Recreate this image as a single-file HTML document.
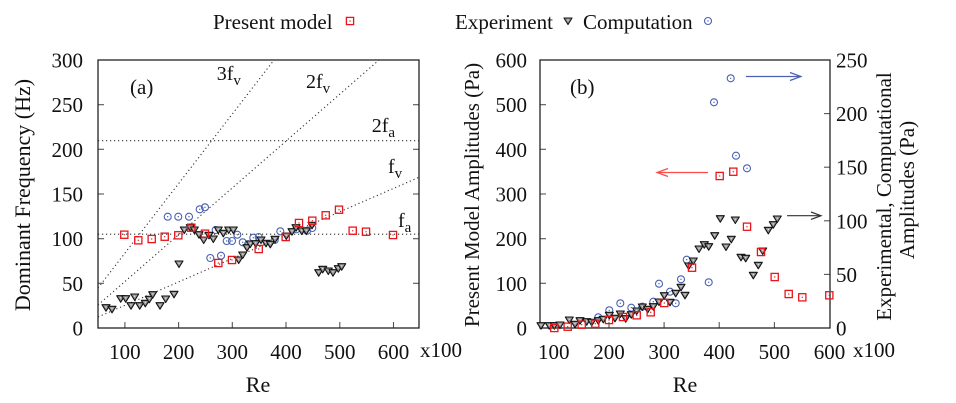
<!DOCTYPE html>
<html><head><meta charset="utf-8"><style>
html,body{margin:0;padding:0;background:#fff}
svg{display:block}
text{font-family:"Liberation Serif",serif;fill:#111}
</style></head><body>
<svg width="956" height="403" viewBox="0 0 956 403" xmlns="http://www.w3.org/2000/svg">
<defs>
<g id="sq"><rect x="-3.6" y="-3.6" width="7.2" height="7.2" fill="none" stroke="#e8161c" stroke-width="1.3"/><rect x="-0.6" y="-0.6" width="1.2" height="1.2" fill="#e8161c"/></g>
<g id="ci"><circle r="3.5" fill="none" stroke="#4a62b0" stroke-width="1.1"/><circle r="0.7" fill="#4a62b0"/></g>
<g id="tr"><polygon points="-4,-3 4,-3 0,3.5" fill="#9a9a9a" stroke="#111" stroke-width="1.1" stroke-linejoin="round"/><circle cx="0" cy="-0.8" r="0.6" fill="#eee"/></g>
<clipPath id="ca"><rect x="98" y="60" width="321" height="268"/></clipPath>
</defs>

<!-- Legend -->
<text x="213" y="29" font-size="21">Present model</text>
<use href="#sq" x="350" y="21"/>
<text x="455" y="29" font-size="21">Experiment</text>
<use href="#tr" x="568" y="21"/>
<text x="583" y="29" font-size="21">Computation</text>
<use href="#ci" x="708" y="21"/>

<!-- ============ LEFT PLOT ============ -->
<g clip-path="url(#ca)" stroke="#333" stroke-width="1.1" stroke-dasharray="1.2 2.8" fill="none">
<line x1="98" y1="234.2" x2="419" y2="234.2"/>
<line x1="98" y1="140.7" x2="419" y2="140.7"/>
<line x1="98" y1="317" x2="419" y2="177.3"/>
<line x1="98" y1="305" x2="379" y2="60"/>
<line x1="98" y1="288" x2="274" y2="60"/>
</g>
<g stroke="#555" stroke-width="1.1">
<line x1="98" y1="283.3" x2="104" y2="283.3"/><line x1="98" y1="238.7" x2="104" y2="238.7"/><line x1="98" y1="194" x2="104" y2="194"/><line x1="98" y1="149.3" x2="104" y2="149.3"/><line x1="98" y1="104.7" x2="104" y2="104.7"/>
<line x1="413" y1="283.3" x2="419" y2="283.3"/><line x1="413" y1="238.7" x2="419" y2="238.7"/><line x1="413" y1="194" x2="419" y2="194"/><line x1="413" y1="149.3" x2="419" y2="149.3"/><line x1="413" y1="104.7" x2="419" y2="104.7"/>
<line x1="124.9" y1="328" x2="124.9" y2="322"/><line x1="178.6" y1="328" x2="178.6" y2="322"/><line x1="232.3" y1="328" x2="232.3" y2="322"/><line x1="286" y1="328" x2="286" y2="322"/><line x1="339.8" y1="328" x2="339.8" y2="322"/><line x1="393.5" y1="328" x2="393.5" y2="322"/>
</g>
<rect x="98" y="60" width="321" height="268" fill="none" stroke="#222" stroke-width="1.3"/>

<g>
<use href="#ci" x="167.7" y="216.7"/><use href="#ci" x="178.3" y="216.7"/><use href="#ci" x="189" y="216.7"/><use href="#ci" x="199.7" y="209.3"/><use href="#ci" x="205" y="207.3"/><use href="#ci" x="210.3" y="258"/><use href="#ci" x="221" y="255.7"/><use href="#ci" x="215.7" y="230"/><use href="#ci" x="226.7" y="241"/><use href="#ci" x="232" y="241"/><use href="#ci" x="237.3" y="234.7"/><use href="#ci" x="242.7" y="242.3"/><use href="#ci" x="248" y="244.3"/><use href="#ci" x="253.3" y="237.7"/><use href="#ci" x="258.7" y="237"/><use href="#ci" x="274.7" y="240"/><use href="#ci" x="280.3" y="231.3"/><use href="#ci" x="296.3" y="229.3"/><use href="#ci" x="307" y="230.7"/><use href="#ci" x="312.3" y="228"/>
</g>
<g>
<use href="#tr" x="106" y="307.7"/><use href="#tr" x="112" y="309.3"/><use href="#tr" x="120.7" y="298.7"/><use href="#tr" x="125.7" y="298.7"/><use href="#tr" x="131" y="305.7"/><use href="#tr" x="134.7" y="297"/><use href="#tr" x="139.7" y="305.7"/><use href="#tr" x="145.3" y="303.3"/><use href="#tr" x="149.3" y="299.3"/><use href="#tr" x="152.7" y="294.7"/><use href="#tr" x="160" y="305.7"/><use href="#tr" x="165.7" y="299"/><use href="#tr" x="174" y="294.3"/><use href="#tr" x="179" y="264"/><use href="#tr" x="184.3" y="230"/><use href="#tr" x="190.3" y="227.7"/><use href="#tr" x="194.3" y="230"/><use href="#tr" x="199" y="234.7"/><use href="#tr" x="203.7" y="240"/><use href="#tr" x="209" y="235.3"/><use href="#tr" x="213.3" y="239"/><use href="#tr" x="218.3" y="230"/><use href="#tr" x="223.3" y="233.3"/><use href="#tr" x="228.7" y="230"/><use href="#tr" x="233.3" y="230"/><use href="#tr" x="238.7" y="260"/><use href="#tr" x="242.7" y="255"/><use href="#tr" x="247" y="247.7"/><use href="#tr" x="250.3" y="244"/><use href="#tr" x="255.7" y="243.7"/><use href="#tr" x="261" y="240"/><use href="#tr" x="266" y="243.3"/><use href="#tr" x="270.3" y="244.3"/><use href="#tr" x="275" y="239.3"/><use href="#tr" x="286.3" y="236"/><use href="#tr" x="292" y="231.7"/><use href="#tr" x="296" y="227.7"/><use href="#tr" x="301.7" y="231"/><use href="#tr" x="306.3" y="231"/><use href="#tr" x="312" y="225.3"/><use href="#tr" x="318.7" y="272.7"/><use href="#tr" x="322.7" y="269.3"/><use href="#tr" x="328.3" y="271"/><use href="#tr" x="333" y="272.7"/><use href="#tr" x="338.3" y="268.7"/><use href="#tr" x="341.7" y="266.7"/>
</g>
<g>
<use href="#sq" x="124.3" y="234.7"/><use href="#sq" x="138.3" y="240.3"/><use href="#sq" x="151.7" y="239"/><use href="#sq" x="164.7" y="236.7"/><use href="#sq" x="178.3" y="235.3"/><use href="#sq" x="191.3" y="227.7"/><use href="#sq" x="205" y="233.7"/><use href="#sq" x="218.3" y="263"/><use href="#sq" x="232" y="260"/><use href="#sq" x="258.7" y="249"/><use href="#sq" x="285.7" y="237"/><use href="#sq" x="299" y="223"/><use href="#sq" x="312.3" y="220.7"/><use href="#sq" x="325.7" y="215.3"/><use href="#sq" x="339" y="209.7"/><use href="#sq" x="352.7" y="230.7"/><use href="#sq" x="366" y="231.7"/><use href="#sq" x="393" y="235"/>
</g>

<!-- left annotations -->
<text x="130" y="94" font-size="21">(a)</text>
<text x="216.7" y="80" font-size="20">3f<tspan font-size="15" dy="5">v</tspan></text>
<text x="306" y="88" font-size="20">2f<tspan font-size="15" dy="5">v</tspan></text>
<text x="371.7" y="132" font-size="20">2f<tspan font-size="15" dy="5">a</tspan></text>
<text x="388" y="173" font-size="20">f<tspan font-size="15" dy="5">v</tspan></text>
<text x="398" y="227" font-size="20">f<tspan font-size="15" dy="5">a</tspan></text>

<!-- left tick labels -->
<g font-size="21" text-anchor="end">
<text x="83" y="67.5">300</text><text x="83" y="112.2">250</text><text x="83" y="156.8">200</text><text x="83" y="201.5">150</text><text x="83" y="246.2">100</text><text x="83" y="290.8">50</text><text x="83" y="335.5">0</text>
</g>
<g font-size="21" text-anchor="middle">
<text x="124.9" y="359">100</text><text x="178.6" y="359">200</text><text x="232.3" y="359">300</text><text x="286" y="359">400</text><text x="339.8" y="359">500</text><text x="393.5" y="359">600</text>
</g>
<text x="420" y="357" font-size="21">x100</text>
<text x="258" y="392" font-size="22" text-anchor="middle">Re</text>
<text transform="translate(30,195) rotate(-90)" font-size="22" text-anchor="middle">Dominant Frequency (Hz)</text>

<!-- ============ RIGHT PLOT ============ -->
<g stroke="#555" stroke-width="1.1">
<line x1="540" y1="283.3" x2="546" y2="283.3"/><line x1="540" y1="238.7" x2="546" y2="238.7"/><line x1="540" y1="194" x2="546" y2="194"/><line x1="540" y1="149.3" x2="546" y2="149.3"/><line x1="540" y1="104.7" x2="546" y2="104.7"/>
<line x1="824" y1="274.4" x2="830" y2="274.4"/><line x1="824" y1="220.8" x2="830" y2="220.8"/><line x1="824" y1="167.2" x2="830" y2="167.2"/><line x1="824" y1="113.6" x2="830" y2="113.6"/>
<line x1="553.8" y1="328" x2="553.8" y2="322"/><line x1="609" y1="328" x2="609" y2="322"/><line x1="664.1" y1="328" x2="664.1" y2="322"/><line x1="719.2" y1="328" x2="719.2" y2="322"/><line x1="774.4" y1="328" x2="774.4" y2="322"/>
</g>
<rect x="540" y="60" width="290" height="268" fill="none" stroke="#222" stroke-width="1.3"/>

<g>
<use href="#ci" x="598.3" y="317.3"/><use href="#ci" x="609.3" y="310.3"/><use href="#ci" x="620.3" y="303.3"/><use href="#ci" x="631.3" y="307.7"/><use href="#ci" x="642.3" y="306.7"/><use href="#ci" x="653.3" y="301.7"/><use href="#ci" x="659" y="283.7"/><use href="#ci" x="670" y="291.7"/><use href="#ci" x="675.7" y="303.3"/><use href="#ci" x="681" y="279.3"/><use href="#ci" x="686.7" y="259.7"/><use href="#ci" x="708.7" y="282.3"/><use href="#ci" x="714" y="102.3"/><use href="#ci" x="730.7" y="78.3"/><use href="#ci" x="736" y="155.7"/><use href="#ci" x="747" y="168.3"/>
</g>
<g>
<use href="#tr" x="541" y="325.7"/><use href="#tr" x="549.3" y="325.7"/><use href="#tr" x="554.3" y="325.7"/><use href="#tr" x="560" y="325"/><use href="#tr" x="569.3" y="320"/><use href="#tr" x="575" y="324.3"/><use href="#tr" x="580" y="320.7"/><use href="#tr" x="586.7" y="321.7"/><use href="#tr" x="591.7" y="322.3"/><use href="#tr" x="598.3" y="320.7"/><use href="#tr" x="603.3" y="319.3"/><use href="#tr" x="609.3" y="315.3"/><use href="#tr" x="615" y="318.3"/><use href="#tr" x="620.3" y="314"/><use href="#tr" x="625.7" y="318.7"/><use href="#tr" x="631.3" y="314.7"/><use href="#tr" x="636.7" y="311"/><use href="#tr" x="642.3" y="307"/><use href="#tr" x="647.7" y="309.3"/><use href="#tr" x="653.3" y="306.7"/><use href="#tr" x="659" y="302"/><use href="#tr" x="664.3" y="295.7"/><use href="#tr" x="670" y="302.3"/><use href="#tr" x="675.7" y="293.3"/><use href="#tr" x="681" y="287.3"/><use href="#tr" x="685" y="295.3"/><use href="#tr" x="688.7" y="266"/><use href="#tr" x="693.3" y="261"/><use href="#tr" x="699" y="249"/><use href="#tr" x="704.3" y="244.7"/><use href="#tr" x="708.7" y="246.7"/><use href="#tr" x="714.7" y="235.7"/><use href="#tr" x="720.3" y="218.7"/><use href="#tr" x="726" y="247"/><use href="#tr" x="731.3" y="239.3"/><use href="#tr" x="735.3" y="220"/><use href="#tr" x="741" y="257.3"/><use href="#tr" x="745.7" y="258.3"/><use href="#tr" x="753.3" y="275.3"/><use href="#tr" x="758.3" y="265.3"/><use href="#tr" x="762.7" y="251"/><use href="#tr" x="768.3" y="230.3"/><use href="#tr" x="773.3" y="224.7"/><use href="#tr" x="777.3" y="219"/>
</g>
<g>
<use href="#sq" x="554.3" y="328"/><use href="#sq" x="567.7" y="326.7"/><use href="#sq" x="581.7" y="324.7"/><use href="#sq" x="595.3" y="323.7"/><use href="#sq" x="609" y="320"/><use href="#sq" x="623" y="317"/><use href="#sq" x="636.7" y="315.3"/><use href="#sq" x="650.7" y="312.3"/><use href="#sq" x="664.3" y="303"/><use href="#sq" x="692" y="267.7"/><use href="#sq" x="719.7" y="176"/><use href="#sq" x="733.3" y="171.7"/><use href="#sq" x="747" y="226.7"/><use href="#sq" x="761" y="252"/><use href="#sq" x="774.7" y="277"/><use href="#sq" x="788.7" y="294"/><use href="#sq" x="802.3" y="297.3"/><use href="#sq" x="829.3" y="295.3"/>
</g>

<!-- arrows -->
<g fill="none" stroke-width="1.2">
<g stroke="#4a62b0"><line x1="746" y1="76.5" x2="801" y2="76.5"/><polyline points="790,72.5 801,76.5 790,80.5"/></g>
<g stroke="#ff4a4a"><line x1="708" y1="172.5" x2="657" y2="172.5"/><polyline points="668,168.5 657,172.5 668,176.5"/></g>
<g stroke="#333"><line x1="787" y1="215.7" x2="821" y2="215.7"/><polyline points="811,212 821,215.7 811,219.4"/></g>
</g>

<text x="570" y="94" font-size="21">(b)</text>

<!-- right tick labels -->
<g font-size="21" text-anchor="end">
<text x="527" y="67.5">600</text><text x="527" y="112.2">500</text><text x="527" y="156.8">400</text><text x="527" y="201.5">300</text><text x="527" y="246.2">200</text><text x="527" y="290.8">100</text><text x="527" y="335.5">0</text>
</g>
<g font-size="21">
<text x="836" y="67.5">250</text><text x="836" y="121.1">200</text><text x="836" y="174.7">150</text><text x="836" y="228.3">100</text><text x="836" y="281.9">50</text><text x="836" y="335.5">0</text>
</g>
<g font-size="21" text-anchor="middle">
<text x="553.8" y="359">100</text><text x="609" y="359">200</text><text x="664.1" y="359">300</text><text x="719.2" y="359">400</text><text x="774.4" y="359">500</text><text x="829.5" y="359">600</text>
</g>
<text x="853" y="357" font-size="21">x100</text>
<text x="685" y="392" font-size="22" text-anchor="middle">Re</text>
<text transform="translate(479,195) rotate(-90)" font-size="21" text-anchor="middle">Present Model Amplitudes (Pa)</text>
<text transform="translate(891,196.5) rotate(-90)" font-size="21" text-anchor="middle">Experimental, Computational</text>
<text transform="translate(914,190) rotate(-90)" font-size="21" text-anchor="middle">Amplitudes (Pa)</text>
</svg>
</body></html>
